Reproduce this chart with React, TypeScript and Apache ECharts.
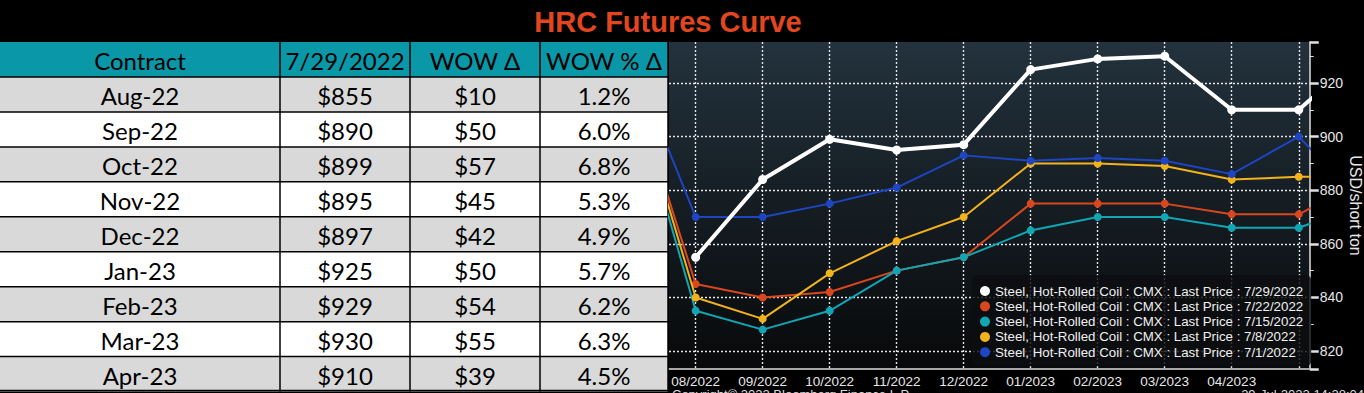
import React, { useEffect, useRef } from "react";
import * as echarts from "echarts";

// ---------- data ----------
const months = ["07/2022", "08/2022", "09/2022", "10/2022", "11/2022", "12/2022", "01/2023", "02/2023", "03/2023", "04/2023", "05/2023", "06/2023"];
const labelFrom = 1;
const labelTo = 9;

const seriesNames = [
  "Steel, Hot-Rolled Coil : CMX : Last Price : 7/29/2022",
  "Steel, Hot-Rolled Coil : CMX : Last Price : 7/22/2022",
  "Steel, Hot-Rolled Coil : CMX : Last Price : 7/15/2022",
  "Steel, Hot-Rolled Coil : CMX : Last Price : 7/8/2022",
  "Steel, Hot-Rolled Coil : CMX : Last Price : 7/1/2022",
];
const curve0729 = [null, 855, 884, 899, 895, 897, 925, 929, 930, 910, 910, 932];
const curve0722 = [924, 845, 840, 842, 850, 855, 875, 875, 875, 871, 871, 884];
const curve0715 = [922, 835, 828, 835, 850, 855, 865, 870, 870, 866, 866, 875];
const curve0708 = [924, 840, 832, 849, 861, 870, 890, 890, 889, 884, 885, 885];
const curve0701 = [932, 870, 870, 875, 881, 893, 891, 892, 891, 886, 900, 874];
const seriesColors = ["#ffffff", "#d9471f", "#10a6b4", "#f2b31c", "#1e45c2"];

const tableHeaders = ["Contract", "7/29/2022", "WOW Δ", "WOW % Δ"];
const contracts = ["Aug-22", "Sep-22", "Oct-22", "Nov-22", "Dec-22", "Jan-23", "Feb-23", "Mar-23", "Apr-23"];
const prices = ["$855", "$890", "$899", "$895", "$897", "$925", "$929", "$930", "$910"];
const wowChange = ["$10", "$50", "$57", "$45", "$42", "$50", "$54", "$55", "$39"];
const wowPct = ["1.2%", "6.0%", "6.8%", "5.3%", "4.9%", "5.7%", "6.2%", "6.3%", "4.5%"];

const titleText = "HRC Futures Curve";
const yAxisName = "USD/short ton";
const copyright = "Copyright© 2022 Bloomberg Finance L.P.";
const stamp = "29-Jul-2022 14:28:04";

// ---------- layout ----------
const W = 1364;
const H = 393;
const colX = [0, 280, 410, 540, 668];
const headerTop = 42;
const headerH = 35;
const rowH = 34.95;

function buildTable() {
  const els: any[] = [];
  const tableFont = "Lato, 'Open Sans', sans-serif";
  els.push({ type: "rect", shape: { x: 0, y: headerTop, width: colX[4], height: headerH }, style: { fill: "#0a98a9" }, z: 1 });
  tableHeaders.forEach((h, c) => {
    els.push({
      type: "text",
      x: (colX[c] + colX[c + 1]) / 2,
      y: headerTop + headerH / 2 + 1,
      style: { text: h, fill: "#000", font: `24px ${tableFont}`, align: "center", verticalAlign: "middle" },
      z: 3,
    });
  });
  const cols = [contracts, prices, wowChange, wowPct];
  contracts.forEach((_, r) => {
    const top = headerTop + headerH + r * rowH;
    els.push({ type: "rect", shape: { x: 0, y: top, width: colX[4], height: rowH }, style: { fill: r % 2 === 0 ? "#d9d9d9" : "#ffffff" }, z: 1 });
    cols.forEach((col, c) => {
      els.push({
        type: "text",
        x: (colX[c] + colX[c + 1]) / 2,
        y: top + rowH / 2 + 1,
        style: { text: col[r], fill: "#000", font: `24px ${tableFont}`, align: "center", verticalAlign: "middle" },
        z: 3,
      });
    });
    els.push({ type: "line", shape: { x1: 0, y1: top, x2: colX[4], y2: top }, style: { stroke: "#000", lineWidth: 1.5 }, z: 2 });
  });
  const bottom = headerTop + headerH + contracts.length * rowH;
  els.push({ type: "line", shape: { x1: 0, y1: bottom - 1, x2: colX[4], y2: bottom - 1 }, style: { stroke: "#000", lineWidth: 1.5 }, z: 2 });
  [1, 2, 3, 4].forEach((c) => {
    els.push({ type: "line", shape: { x1: colX[c], y1: headerTop, x2: colX[c], y2: bottom }, style: { stroke: "#000", lineWidth: 1.5 }, z: 2 });
  });
  return els;
}

export default function App() {
  const ref = useRef<HTMLDivElement>(null);
  useEffect(() => {
    document.body.style.margin = "0";
    document.body.style.background = "#000";
    const chart = echarts.init(ref.current!, null, { renderer: "svg" });
    const curves = [curve0729, curve0722, curve0715, curve0708, curve0701];
    const drawOrder = [1, 2, 3, 4, 0];
    const series = drawOrder.map((i, k) => ({
      name: seriesNames[i],
      type: "line",
      data: curves[i].map((v, x) => [x, v]).filter((p) => p[1] !== null),
      color: seriesColors[i],
      lineStyle: { width: i === 0 ? 4 : 2, color: seriesColors[i] },
      itemStyle: { color: seriesColors[i] },
      symbol: "circle",
      symbolSize: i === 0 ? 9 : 8,
      showSymbol: true,
      z: 2 + k,
      clip: true,
    }));
    const grid = { left: 669, right: W - 1312, top: 42, bottom: H - 369 };
    const dotted = { color: "rgba(240,240,240,0.95)", width: 1.4, type: [2, 2] };
    const isInt = (v: number) => Math.abs(v - Math.round(v)) < 1e-6;
    chart.setOption({
      animation: false,
      backgroundColor: "#000",
      textStyle: { fontFamily: "'Liberation Sans', Arial, sans-serif" },
      grid: {
        ...grid,
        show: true,
        borderWidth: 0,
        backgroundColor: new echarts.graphic.LinearGradient(0, 0, 0, 1, [
          { offset: 0, color: "#23323d" },
          { offset: 0.5, color: "#151d23" },
          { offset: 1, color: "#08090a" },
        ]),
      },
      legend: {
        orient: "vertical",
        left: 972,
        top: 275,
        data: seriesNames,
        icon: "circle",
        itemWidth: 10,
        itemHeight: 10,
        itemGap: 1.3,
        padding: [9, 8, 7, 8],
        backgroundColor: "rgba(12,14,16,0.82)",
        borderRadius: 5,
        textStyle: { color: "#f0f0f0", fontSize: 13.3, lineHeight: 14, fontFamily: "'Liberation Sans', Arial, sans-serif" },
      },
      xAxis: {
        type: "value",
        min: 0.602,
        max: 10.164,
        splitNumber: 10,
        minInterval: 1,
        maxInterval: 1,
        axisLine: { show: true, lineStyle: { color: "#a8a8a8", width: 2 } },
        axisTick: { show: false },
        axisLabel: {
          color: "#e6e6e6",
          fontSize: 13.5,
          margin: 5,
          showMinLabel: false,
          showMaxLabel: false,
          formatter: (v: number) => {
            const r = Math.round(v);
            return isInt(v) && r >= labelFrom && r <= labelTo ? months[r] : "";
          },
        },
        splitLine: { show: true, showMinLine: false, showMaxLine: false, lineStyle: dotted },
      },
      yAxis: {
        type: "value",
        position: "right",
        min: 813.3,
        max: 935.3,
        splitNumber: 6,
        minInterval: 20,
        maxInterval: 20,
        name: yAxisName,
        nameLocation: "middle",
        nameRotate: -90,
        nameGap: 36,
        nameTextStyle: { color: "#e6e6e6", fontSize: 16 },
        axisLine: { show: true, lineStyle: { color: "#e0e0e0", width: 1.5 } },
        axisTick: { show: true, length: 9, lineStyle: { color: "#e0e0e0", width: 2.5 } },
        minorTick: { show: true, splitNumber: 2, length: 4, lineStyle: { color: "#e0e0e0", width: 1 } },
        axisLabel: {
          color: "#e6e6e6",
          fontSize: 14,
          margin: 10,
          showMinLabel: false,
          showMaxLabel: false,
          formatter: (v: number) => (isInt(v / 20) ? String(Math.round(v)) : ""),
        },
        splitLine: { show: true, showMinLine: false, showMaxLine: false, lineStyle: dotted },
      },
      series,
      graphic: [
        {
          type: "text",
          x: 668,
          y: 22,
          style: { text: titleText, fill: "#e2461f", font: "bold 29px 'Liberation Sans', Arial, sans-serif", align: "center", verticalAlign: "middle" },
          z: 10,
        },
        ...buildTable(),
        {
          type: "text",
          x: 672,
          y: 388,
          style: { text: copyright, fill: "#d8d8d8", font: "13px 'Liberation Sans', Arial, sans-serif", align: "left", verticalAlign: "top" },
          z: 10,
        },
        {
          type: "text",
          x: 1364,
          y: 388,
          style: { text: stamp, fill: "#d8d8d8", font: "13px 'Liberation Sans', Arial, sans-serif", align: "right", verticalAlign: "top" },
          z: 10,
        },
      ],
    });
    return () => chart.dispose();
  }, []);
  return <div ref={ref} style={{ position: "absolute", left: 0, top: 0, width: W, height: H, background: "#000" }} />;
}
